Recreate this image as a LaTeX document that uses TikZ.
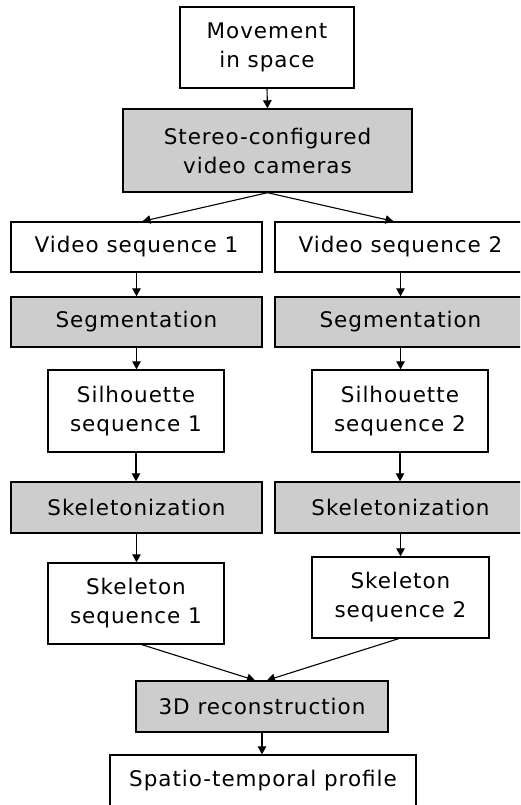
\documentclass[tikz,border=0pt]{standalone}
\usepackage{fontspec}
\newfontfamily\diagfont[LetterSpace=4.5]{DejaVu Sans}
\usetikzlibrary{arrows.meta}
\definecolor{stagegray}{RGB}{205,205,205}
\begin{document}
\begin{tikzpicture}[x=1pt,y=-1pt,
  box/.style={draw=black, line width=1.4pt, fill=white, inner sep=0pt,
    align=center, font={\diagfont\fontsize{21.5}{29}\selectfont}},
  stage/.style={box, fill=stagegray},
  flow/.style={line width=1.1pt, -{Triangle[length=8pt,width=8.5pt]}}]
\clip (0,0) rectangle (520,805);
\fill[white] (0,0) rectangle (520,805);

% top of the pipeline
\node[box, minimum width=174pt, minimum height=81pt] (mov) at (267,47.5) {Movement\\in space};
\node[stage, minimum width=289pt, minimum height=83pt] (cam) at (267.5,150.5) {Stereo-configured\\video cameras};

% two camera branches
\node[box, minimum width=251pt, minimum height=50pt] (vid1) at (136.5,247) {Video sequence 1};
\node[box, minimum width=251pt, minimum height=50pt] (vid2) at (400.5,247) {Video sequence 2};
\node[stage, minimum width=251pt, minimum height=50pt] (seg1) at (136.5,322) {Segmentation};
\node[stage, minimum width=251pt, minimum height=50pt] (seg2) at (400.5,322) {Segmentation};
\node[box, minimum width=176pt, minimum height=82pt] (sil1) at (136,411) {Silhouette\\sequence 1};
\node[box, minimum width=176pt, minimum height=82pt] (sil2) at (400,411) {Silhouette\\sequence 2};
\node[stage, minimum width=251pt, minimum height=51pt] (skz1) at (136.5,507.5) {Skeletonization};
\node[stage, minimum width=251pt, minimum height=51pt] (skz2) at (400.5,507.5) {Skeletonization};
\node[box, minimum width=176pt, minimum height=81pt] (sk1) at (136,603.5) {Skeleton\\sequence 1};
\node[box, minimum width=177pt, minimum height=81pt] (sk2) at (400.5,597.5) {Skeleton\\sequence 2};

% merged result
\node[stage, minimum width=252pt, minimum height=51pt] (rec) at (262,706.5) {3D reconstruction};
\node[box, minimum width=306pt, minimum height=51pt] (prof) at (263,780.5) {Spatio-temporal profile};

% connectors
\draw[flow] (mov.south) -- (cam.north);
\draw[flow] (cam.south) -- ([xshift=6pt]vid1.north);
\draw[flow] (cam.south) -- ([xshift=-7pt]vid2.north);
\draw[flow] (vid1.south) -- (seg1.north);
\draw[flow] (vid2.south) -- (seg2.north);
\draw[flow] (seg1.south) -- (seg1.south |- sil1.north);
\draw[flow] (seg2.south) -- (seg2.south |- sil2.north);
\draw[flow] (sil1.south) -- (sil1.south |- skz1.north);
\draw[flow] (sil2.south) -- (sil2.south |- skz2.north);
\draw[flow] (skz1.south) -- (skz1.south |- sk1.north);
\draw[flow] (skz2.south) -- (skz2.south |- sk2.north);
\draw[flow] ([xshift=6pt]sk1.south) -- ([xshift=-7pt]rec.north);
\draw[flow] ([xshift=-2pt]sk2.south) -- ([xshift=5pt]rec.north);
\draw[flow] (rec.south) -- (rec.south |- prof.north);
\end{tikzpicture}
\end{document}
